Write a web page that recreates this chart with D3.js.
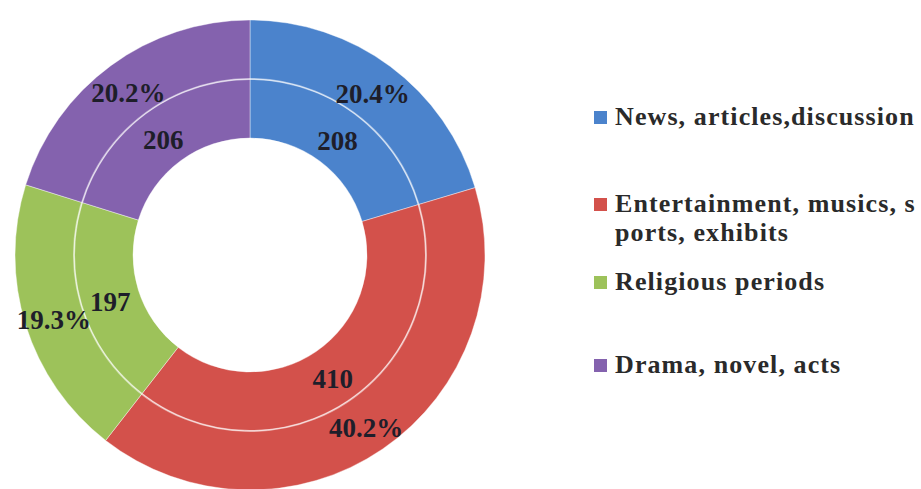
<!DOCTYPE html>
<html>
<head>
<meta charset="utf-8">
<script src="https://cdn.jsdelivr.net/npm/d3@7"></script>
<style>
  html, body { margin: 0; padding: 0; background: #ffffff; }
  svg { display: block; }
</style>
</head>
<body>
<svg id="chart" width="921" height="489"></svg>
<script>
// Programme types and number of responses for each
const categories = ["News, articles,discussion", "Entertainment, musics, sports, exhibits", "Religious periods", "Drama, novel, acts"];
const legendLines = [["News, articles,discussion"], ["Entertainment, musics, s", "ports, exhibits"], ["Religious periods"], ["Drama, novel, acts"]];
const counts = [208, 410, 197, 206];
const percentLabels = ["20.4%", "40.2%", "19.3%", "20.2%"];
const colors = ["#4b83cc", "#d3514b", "#9dc25a", "#8462ae"];

const svg = d3.select("#chart");
const cx = 250, cy = 255;
const rHole = 117, rMid = 176, rOuter = 235;

const pie = d3.pie().sort(null).value(d => d);
const slices = pie(counts);

const innerArc = d3.arc().innerRadius(rHole).outerRadius(rMid);
const outerArc = d3.arc().innerRadius(rMid).outerRadius(rOuter);

const g = svg.append("g").attr("transform", `translate(${cx},${cy})`);

// inner ring: counts
g.selectAll("path.inner").data(slices).join("path")
  .attr("class", "inner")
  .attr("d", innerArc)
  .attr("fill", (d, i) => colors[i])
  .attr("stroke", "rgba(255,255,255,0.4)")
  .attr("stroke-width", 1);

// outer ring: shares
g.selectAll("path.outer").data(slices).join("path")
  .attr("class", "outer")
  .attr("d", outerArc)
  .attr("fill", (d, i) => colors[i])
  .attr("stroke", "rgba(255,255,255,0.4)")
  .attr("stroke-width", 1);

// thin divider between the two rings
g.append("circle")
  .attr("r", rMid)
  .attr("fill", "none")
  .attr("stroke", "rgba(255,255,255,0.5)")
  .attr("stroke-width", 2);

const labelFont = "'Liberation Serif', 'DejaVu Serif', serif";

g.selectAll("text.count").data(slices).join("text")
  .attr("class", "count")
  .attr("transform", d => { const [x, y] = innerArc.centroid(d); return `translate(${x},${y + 3})`; })
  .attr("text-anchor", "middle")
  .attr("dy", "0.35em")
  .attr("font-family", labelFont)
  .attr("font-weight", "bold")
  .attr("font-size", 27)
  .attr("fill", "#1e1e2a")
  .text(d => d.data);

g.selectAll("text.pct").data(slices).join("text")
  .attr("class", "pct")
  .attr("transform", d => { const [x, y] = outerArc.centroid(d); return `translate(${x},${y + 3})`; })
  .attr("text-anchor", "middle")
  .attr("dy", "0.35em")
  .attr("font-family", labelFont)
  .attr("font-weight", "bold")
  .attr("font-size", 27)
  .attr("fill", "#1e1e2a")
  .text((d, i) => percentLabels[i]);

// legend
const legendBaselines = [125, 212, 290, 373];
const legend = svg.append("g").attr("class", "legend");
const items = legend.selectAll("g").data(categories).join("g")
  .attr("transform", (d, i) => `translate(594,${legendBaselines[i]})`);

items.append("rect")
  .attr("x", 0).attr("y", -14)
  .attr("width", 13).attr("height", 13)
  .attr("fill", (d, i) => colors[i]);

items.append("text")
  .attr("x", 21)
  .attr("font-family", labelFont)
  .attr("font-weight", "bold")
  .attr("font-size", 26)
  .attr("letter-spacing", 1.1)
  .attr("fill", "#2a2a2a")
  .selectAll("tspan").data((d, i) => legendLines[i]).join("tspan")
  .attr("x", 21)
  .attr("dy", (d, j) => j === 0 ? 0 : 29)
  .text(d => d);
</script>
</body>
</html>
